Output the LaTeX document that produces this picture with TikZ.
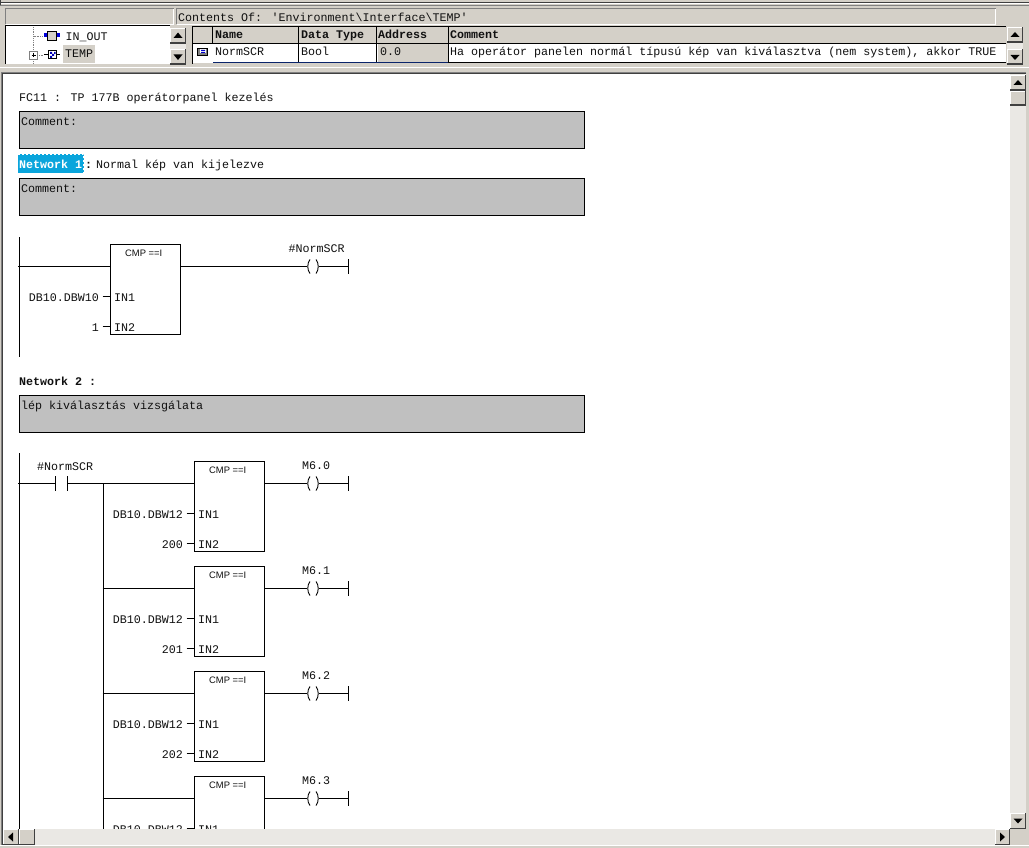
\documentclass[tikz,border=0pt]{standalone}
\usepackage{fontspec}
\setmainfont{Liberation Sans}
\newfontfamily\monof{Liberation Mono}
\definecolor{face}{HTML}{D4D0C8}
\definecolor{chk}{HTML}{EAE8E4}
\definecolor{cbox}{HTML}{C0C0C0}
\definecolor{darkedge}{HTML}{404040}
\definecolor{midedge}{HTML}{808080}
\definecolor{hilite}{HTML}{0AA5DC}
\definecolor{navyline}{HTML}{0A246A}
\definecolor{txt}{HTML}{101010}
\tikzset{
  mono/.style={font=\monof\fontsize{11.67}{12}\selectfont,inner sep=0pt,anchor=base west,text=txt},
  monob/.style={mono,font=\monof\bfseries\fontsize{11.67}{12}\selectfont},
  monor/.style={mono,anchor=base east},
  cmptitle/.style={font=\fontsize{9.4}{10}\selectfont,inner sep=0pt,anchor=base west,text=txt},
  cmpbox/.style={draw=black,line width=1pt,fill=white,anchor=north west,minimum width=70pt,inner sep=0pt},
  commentbox/.style={draw=black,line width=1pt,fill=cbox,anchor=north west,minimum width=565pt,minimum height=37pt,inner sep=0pt},
  wire/.style={draw=black,line width=1pt},
}
% raised Windows button: x1 y1 x2 y2
\newcommand{\winbtn}[4]{%
  \fill[darkedge] (#1,#2) rectangle (#3,#4);
  \fill[white] (#1,#2) rectangle (#3-1.5,#4-1.5);
  \fill[face] (#1+1,#2+1) rectangle (#3-1.5,#4-1.5);
}
% coil with its label; #1 name, #2 rung y, #3 label, #4 label x
\newcommand{\coil}[4]{%
  \coordinate (#1L) at (307,#2);
  \coordinate (#1R) at (319,#2);
  \coordinate (#1E) at (348.5,#2);
  \begin{scope}[shift={(#1L)}]
    \draw[wire,line width=.9pt] (3,-7) .. controls (0,-3) and (0,3) .. (3,7);
  \end{scope}
  \begin{scope}[shift={(#1R)}]
    \draw[wire,line width=.9pt] (-3,-7) .. controls (0,-3) and (0,3) .. (-3,7);
  \end{scope}
  \draw[wire] (#1R) -- (#1E);
  \draw[wire] (#1E)++(0,-7.5) -- +(0,15);
  \node[mono] (#1T) at (#4,#2-14) {#3};
}
% compare block; #1 height, #2 name, #3 left, #4 top, #5 IN1 label
\newcommand{\cmpblock}[5]{%
  \node[cmpbox,minimum height=#1pt] (#2) at (#3,#4) {};
  \node[cmptitle] (#2t) at (#3+15,#4+12) {CMP ==I};
  \node[mono] (#2a) at (#3+4,#4+57) {IN1};
  \node[monor] (#2c) at (#3-11,#4+57) {#5};
  \coordinate (#2p) at (#3+.5,#4+52.5);
  \draw[wire] ([xshift=-8pt]#2p) -- (#2p);
}
% second input of a block; #1 name, #2 left, #3 top, #4 label
\newcommand{\cmpsecond}[4]{%
  \node[mono] (#1b) at (#2+4,#3+87) {IN2};
  \node[monor] (#1d) at (#2-11,#3+87) {#4};
  \coordinate (#1q) at (#2+.5,#3+82.5);
  \draw[wire] ([xshift=-8pt]#1q) -- (#1q);
}
\begin{document}
\begin{tikzpicture}[x=1pt,y=-1pt]
\useasboundingbox (0,0) rectangle (1029,848);
\fill[face] (0,0) rectangle (1029,848);
% outer frame lines
\fill[darkedge] (0,2) rectangle (1029,3);
\fill[white] (0,3) rectangle (1029,4);
\fill[midedge] (0,5) rectangle (1029,6);
\fill[white] (0,67) rectangle (1029,68);
\fill[white] (0,845) rectangle (1029,846);
\fill[darkedge] (0,0) rectangle (1,5);
% title panels
\draw[white,line width=1pt] (5.5,24.5) -- (173.5,24.5) -- (173.5,8.5);
\draw[midedge,line width=1pt] (5.5,24.5) -- (5.5,8.5) -- (173.5,8.5);
\draw[white,line width=1pt] (176.5,24.5) -- (995.5,24.5) -- (995.5,8.5);
\draw[midedge,line width=1pt] (176.5,24.5) -- (176.5,8.5) -- (995.5,8.5);
\node[mono] (contents) at (178,22) {Contents Of: 'Environment\textbackslash Interface\textbackslash TEMP'};
% tree panel
\fill[white] (5,26) rectangle (170,64);
\draw[black,line width=1pt] (5.5,64) -- (5.5,25.5) -- (170,25.5);
\fill[face] (63,45) rectangle (95,63);
\draw[midedge,densely dotted,line width=.8pt] (33.5,27) -- (33.5,36.5) -- (44,36.5);
\draw[midedge,densely dotted,line width=.8pt] (33.5,36.5) -- (33.5,51);
\draw[midedge,densely dotted,line width=.8pt] (33.5,59) -- (33.5,64);
\draw[midedge,densely dotted,line width=.8pt] (37,55.5) -- (44,55.5);
% IN_OUT icon
\fill[blue!85!black] (44,33) rectangle (60,37);
\fill[face,draw=black,line width=.8pt] (47.5,31.5) rectangle (56,40.5);
\node[mono] (inout) at (65.5,41) {IN\_OUT};
% TEMP icon
\draw[wire] (44,54.5) -- (60,54.5);
\fill[white,draw=black,line width=.8pt] (48.5,50.5) rectangle (56,58.5);
\fill[blue!70!black] (50,52) rectangle (52,54) (52,54) rectangle (54,56) (50,56) rectangle (52,58) (54,52) rectangle (55.5,54);
\fill[white,draw=midedge,line width=.8pt] (29.5,51.5) rectangle (37.5,59.5);
\draw[black,line width=.8pt] (31.5,55.5) -- (35.5,55.5) (33.5,53.5) -- (33.5,57.5);
\node[mono] (temp) at (65,58) {TEMP};
% tree scrollbar
\fill[chk] (170,28) rectangle (186,64);
\winbtn{170}{28}{186}{44}
\fill[black] (178,32.5) -- (173.5,38) -- (182.5,38) -- cycle;
\winbtn{170}{49}{186}{65}
\fill[black] (178,60) -- (173.5,54.5) -- (182.5,54.5) -- cycle;
% table
\fill[white] (193,43) rectangle (1006,63);
\fill[face] (193,27) rectangle (1006,43);
\fill[face] (378,44) rectangle (448,62);
\draw[black,line width=1pt] (192.5,64) -- (192.5,26.5) -- (1006,26.5);
\draw[black,line width=1pt] (192.5,43.5) -- (1006,43.5);
\draw[black,line width=1pt] (212.5,27) -- (212.5,43);
\draw[black,line width=1pt] (298.5,27) -- (298.5,63);
\draw[black,line width=1pt] (376.5,27) -- (376.5,63);
\draw[black,line width=1pt] (448.5,27) -- (448.5,63);
\draw[black,line width=1pt] (448,63) -- (1006,63);
\draw[navyline,line width=1.5pt] (213,62.5) -- (448,62.5);
\node[monob] (hname) at (215,39) {Name};
\node[monob] (htype) at (301,39) {Data Type};
\node[monob] (haddr) at (378,39) {Address};
\node[monob] (hcomm) at (450,39) {Comment};
\fill[midedge,draw=black,line width=.6pt] (197,48) rectangle (207.5,55);
\fill[white] (199.5,49.5) rectangle (206,53.5);
\fill[blue!80!black] (201,50) rectangle (205,51) (201,52) rectangle (205,53);
\node[mono] (rname) at (215,56) {NormSCR};
\node[mono] (rtype) at (301,56) {Bool};
\node[mono] (raddr) at (380,56) {0.0};
\node[mono] (rcomm) at (450,56) {Ha operátor panelen normál típusú kép van kiválasztva (nem system), akkor TRUE};
% table scrollbar
\fill[chk] (1007,27) rectangle (1023,64);
\winbtn{1007}{27}{1023}{43}
\fill[black] (1015,32) -- (1010.5,37) -- (1019.5,37) -- cycle;
\winbtn{1007}{49}{1023}{65}
\fill[black] (1015,60) -- (1010.5,55) -- (1019.5,55) -- cycle;
% main panel
\fill[white] (3,73) rectangle (1010,829);
\draw[darkedge,line width=1pt] (2.5,846) -- (2.5,73.5) -- (1026,73.5);
\draw[midedge,line width=1pt] (1.5,846) -- (1.5,72.5) -- (1026,72.5);
% heading
\node[mono] (fc) at (19,102) {FC11 : TP 177B operátorpanel kezelés};
\node[commentbox] (c0) at (19,111) {};
\node[mono] (c0t) at (21,126) {Comment:};
% network 1
\fill[hilite] (17.5,154.5) rectangle (83.5,173.5);
\draw[white,dash pattern=on 2pt off 2pt,line width=1.2pt] (17.5,154.5) rectangle (83.5,173.5);
\node[monob,text=white] (n1) at (19,169) {Network 1};
\node[monob] (n1c) at (85,169) {:};
\node[mono] (n1t) at (96,169) {Normal kép van kijelezve};
\node[commentbox] (c1) at (19,178) {};
\node[mono] (c1t) at (21,193) {Comment:};
\coordinate (r1a) at (19.5,237);
\coordinate (r1b) at (19.5,357);
\draw[wire] (r1a) -- (r1b);
\cmpblock{90}{b1}{110}{244}{DB10.DBW10}
\cmpsecond{b1}{110}{244}{1}
\coil{k1}{266.5}{\#NormSCR}{288.5}
\draw[wire] (18,266.5) -- (b1.west |- k1L);
\draw[wire] (b1.east |- k1L) -- (k1L);
% network 2
\node[monob] (n2) at (19,385) {Network 2 :};
\node[commentbox] (c2) at (19,395) {};
\node[mono] (c2t) at (21,409) {lép kiválasztás vizsgálata};
\coordinate (r2a) at (19.5,453);
\coordinate (r2b) at (19.5,830);
\draw[wire] (r2a) -- (r2b);
\coordinate (brt) at (103.5,483.5);
\coordinate (brb) at (103.5,830);
\draw[wire] (brt) -- (brb);
% contact
\coordinate (cl) at (55.5,483.5);
\coordinate (cr) at (67.5,483.5);
\node[mono] (cont) at (37,470) {\#NormSCR};
\draw[wire] (18,483.5) -- (cl);
\draw[wire] (cl)++(0,-7.5) -- +(0,15);
\draw[wire] (cr)++(0,-7.5) -- +(0,15);
\draw[wire] (cr) -- (brt);
% rungs
\cmpblock{90}{b2}{194}{461}{DB10.DBW12}
\cmpsecond{b2}{194}{461}{200}
\coil{k2}{483.5}{M6.0}{302}
\draw[wire] (brt) -- (b2.west |- brt);
\draw[wire] (b2.east |- k2L) -- (k2L);
\cmpblock{90}{b3}{194}{566}{DB10.DBW12}
\cmpsecond{b3}{194}{566}{201}
\coil{k3}{588.5}{M6.1}{302}
\draw[wire] (102.5,588.5) -- (b3.west |- k3L);
\draw[wire] (b3.east |- k3L) -- (k3L);
\cmpblock{90}{b4}{194}{671}{DB10.DBW12}
\cmpsecond{b4}{194}{671}{202}
\coil{k4}{693.5}{M6.2}{302}
\draw[wire] (102.5,693.5) -- (b4.west |- k4L);
\draw[wire] (b4.east |- k4L) -- (k4L);
\cmpblock{66}{b5}{194}{776}{DB10.DBW12}
\coil{k5}{798.5}{M6.3}{302}
\draw[wire] (102.5,798.5) -- (b5.west |- k5L);
\draw[wire] (b5.east |- k5L) -- (k5L);
% main scrollbars
\fill[chk] (1010,74) rectangle (1026,813);
\fill[chk] (3,829) rectangle (995,845);
\fill[face] (1010,829) rectangle (1026,845);
\fill[face] (0,845) rectangle (1029,848);
\fill[white] (0,845) rectangle (1029,846);
\fill[darkedge] (2,829) rectangle (3,845);
\winbtn{1010}{75}{1026}{91}
\fill[black] (1018,80) -- (1013.5,85) -- (1022.5,85) -- cycle;
\winbtn{1010}{91}{1026}{106}
\winbtn{1010}{813}{1026}{829}
\fill[black] (1018,823.5) -- (1013.5,818.5) -- (1022.5,818.5) -- cycle;
\winbtn{3}{829}{19}{845}
\fill[black] (8,837) -- (13,832.5) -- (13,841.5) -- cycle;
\winbtn{19}{829}{35}{845}
\winbtn{995}{829}{1010}{845}
\fill[black] (1005,837) -- (1000,832.5) -- (1000,841.5) -- cycle;
\end{tikzpicture}
\end{document}
